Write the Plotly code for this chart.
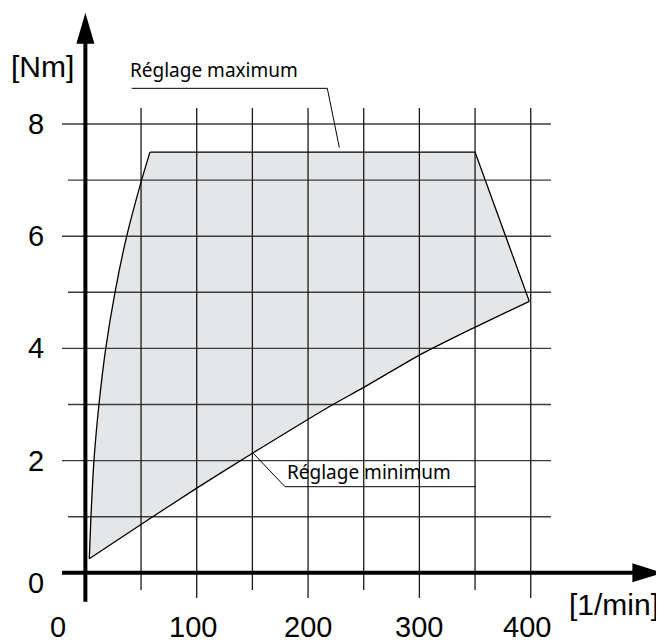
import plotly.graph_objects as go

# ---------------- data ----------------
upper_rpm = [3.5, 5.0, 7.7, 12.2, 18.3, 26.6, 37.1, 50.5, 58.0]
upper_torque = [0.25, 1.0, 2.0, 3.0, 4.0, 5.0, 6.0, 7.0, 7.5]
plateau_rpm = [58.0, 350.0, 398.7]
plateau_torque = [7.5, 7.5, 4.84]
lower_rpm = [3.5, 50.6, 100.0, 150.8, 219.7, 249.6, 300.0, 345.0, 398.7]
lower_torque = [0.25, 0.87, 1.51, 2.14, 2.97, 3.30, 3.88, 4.33, 4.84]

x_tick_vals = [0, 100, 200, 300, 400]
x_tick_text = ["0", "100", "200", "300", "400"]
y_tick_vals = [0, 2, 4, 6, 8]
y_tick_text = ["0", "2", "4", "6", "8"]

x_grid_major = [100, 200, 300, 400]
x_grid_minor = [50, 150, 250, 350]
y_grid_major = [2, 4, 6, 8]
y_grid_minor = [1, 3, 5, 7]

label_max = "Réglage maximum"
label_min = "Réglage minimum"
x_unit = "[1/min]"
y_unit = "[Nm]"

# leader lines of the two labels (data coordinates)
leader_max_x = [41.6, 217.3, 228.1]
leader_max_y = [8.636, 8.636, 7.58]
leader_min_x = [150.8, 179.3, 350.6]
leader_min_y = [2.13, 1.535, 1.535]

# ---------------- layout geometry ----------------
# page body has an 8px margin, so the figure is 8px smaller than the window
FIG_W, FIG_H = 656, 635
X_VIEW = [-69.5, 519.7]
Y_VIEW = [-1.251, 10.068]
grid_top = 8.285
grid_right = 418.2
h_major_left = -21.0
h_minor_left = -15.6
v_major_bottom = -0.45
v_minor_bottom = -0.307

fig = go.Figure()

# filled region
fill_x = upper_rpm + plateau_rpm[1:] + lower_rpm[::-1][1:]
fill_y = upper_torque + plateau_torque[1:] + lower_torque[::-1][1:]
fig.add_trace(go.Scatter(x=fill_x, y=fill_y, fill="toself", fillcolor="#e5e6e8",
                         mode="none", hoverinfo="skip", showlegend=False))

# grid lines
def seg_lines(vals, a, b, horizontal):
    xs, ys = [], []
    for v in vals:
        if horizontal:
            xs += [a, b, None]; ys += [v, v, None]
        else:
            xs += [v, v, None]; ys += [a, b, None]
    return xs, ys

gx, gy = seg_lines(y_grid_major, h_major_left, grid_right, True)
fig.add_trace(go.Scatter(x=gx, y=gy, mode="lines", line=dict(color="#3c3c3c", width=1.4),
                         hoverinfo="skip", showlegend=False))
gx, gy = seg_lines(y_grid_minor, h_minor_left, grid_right, True)
fig.add_trace(go.Scatter(x=gx, y=gy, mode="lines", line=dict(color="#3c3c3c", width=1.4),
                         hoverinfo="skip", showlegend=False))
gx, gy = seg_lines(x_grid_major, v_major_bottom, grid_top, False)
fig.add_trace(go.Scatter(x=gx, y=gy, mode="lines", line=dict(color="#1a1a1a", width=1.3),
                         hoverinfo="skip", showlegend=False))
gx, gy = seg_lines(x_grid_minor, v_minor_bottom, grid_top, False)
fig.add_trace(go.Scatter(x=gx, y=gy, mode="lines", line=dict(color="#1a1a1a", width=1.3),
                         hoverinfo="skip", showlegend=False))

# outlines
fig.add_trace(go.Scatter(x=upper_rpm, y=upper_torque, mode="lines",
                         line=dict(color="black", width=1.3, shape="spline", smoothing=0.6),
                         hoverinfo="skip", showlegend=False))
fig.add_trace(go.Scatter(x=plateau_rpm, y=plateau_torque, mode="lines",
                         line=dict(color="black", width=1.3),
                         hoverinfo="skip", showlegend=False))
fig.add_trace(go.Scatter(x=lower_rpm, y=lower_torque, mode="lines",
                         line=dict(color="black", width=1.3, shape="spline", smoothing=0.6),
                         hoverinfo="skip", showlegend=False))

# leader lines
fig.add_trace(go.Scatter(x=leader_max_x, y=leader_max_y, mode="lines",
                         line=dict(color="black", width=1.0), hoverinfo="skip", showlegend=False))
fig.add_trace(go.Scatter(x=leader_min_x, y=leader_min_y, mode="lines",
                         line=dict(color="black", width=1.0), hoverinfo="skip", showlegend=False))

# axes with arrows
x_axis_start, x_arrow_base, x_arrow_tip, x_arrow_half = -21.0, 491.3, 518.8, 0.17
y_axis_start, y_arrow_base, y_arrow_tip, y_arrow_half = -0.515, 9.43, 9.984, 8.1
fig.add_trace(go.Scatter(x=[x_axis_start, x_arrow_base + 2], y=[0, 0], mode="lines",
                         line=dict(color="black", width=4), hoverinfo="skip", showlegend=False))
fig.add_trace(go.Scatter(x=[0, 0], y=[y_axis_start, y_arrow_base + 0.05], mode="lines",
                         line=dict(color="black", width=4), hoverinfo="skip", showlegend=False))
fig.add_shape(type="path",
              path=f"M {x_arrow_base},{-x_arrow_half} L {x_arrow_tip},0 L {x_arrow_base},{x_arrow_half} Z",
              xref="x", yref="y", fillcolor="black", line=dict(color="black", width=0))
fig.add_shape(type="path",
              path=f"M {-y_arrow_half},{y_arrow_base} L 0,{y_arrow_tip} L {y_arrow_half},{y_arrow_base} Z",
              xref="x", yref="y", fillcolor="black", line=dict(color="black", width=0))

# tick labels
tick_font = dict(family="Liberation Sans, Arial, sans-serif", size=29, color="black")
x_label_pos = [-24.5, 97, 200, 300, 397]
for pos, t in zip(x_label_pos, x_tick_text):
    fig.add_annotation(x=pos, y=-0.97, text=t, showarrow=False, font=tick_font,
                       xanchor="center", yanchor="middle")
y_label_pos = [-0.18, 2, 4, 6, 8]
for pos, t in zip(y_label_pos, y_tick_text):
    fig.add_annotation(x=-44.4, y=pos, text=t, showarrow=False, font=tick_font,
                       xanchor="center", yanchor="middle")

fig.add_annotation(x=474.8, y=-0.556, text=x_unit, showarrow=False,
                   font=dict(family="Liberation Sans, Arial, sans-serif", size=30, color="black"),
                   xanchor="center", yanchor="middle")
fig.add_annotation(x=-38.5, y=9.03, text=y_unit, showarrow=False,
                   font=dict(family="Liberation Sans, Arial, sans-serif", size=30, color="black"),
                   xanchor="center", yanchor="middle")

label_font = dict(family="Noto Sans, sans-serif", size=19, color="black")
fig.add_annotation(x=38.5, y=8.963, text=label_max, showarrow=False, font=label_font,
                   xanchor="left", yanchor="middle")
fig.add_annotation(x=179.0, y=1.80, text=label_min, showarrow=False, font=label_font,
                   xanchor="left", yanchor="middle")

fig.update_layout(
    width=FIG_W, height=FIG_H, autosize=False,
    margin=dict(l=0, r=0, t=0, b=0),
    paper_bgcolor="white", plot_bgcolor="white",
    xaxis=dict(range=X_VIEW, visible=False, fixedrange=True),
    yaxis=dict(range=Y_VIEW, visible=False, fixedrange=True),
    showlegend=False,
)

fig.write_html("out.html")
